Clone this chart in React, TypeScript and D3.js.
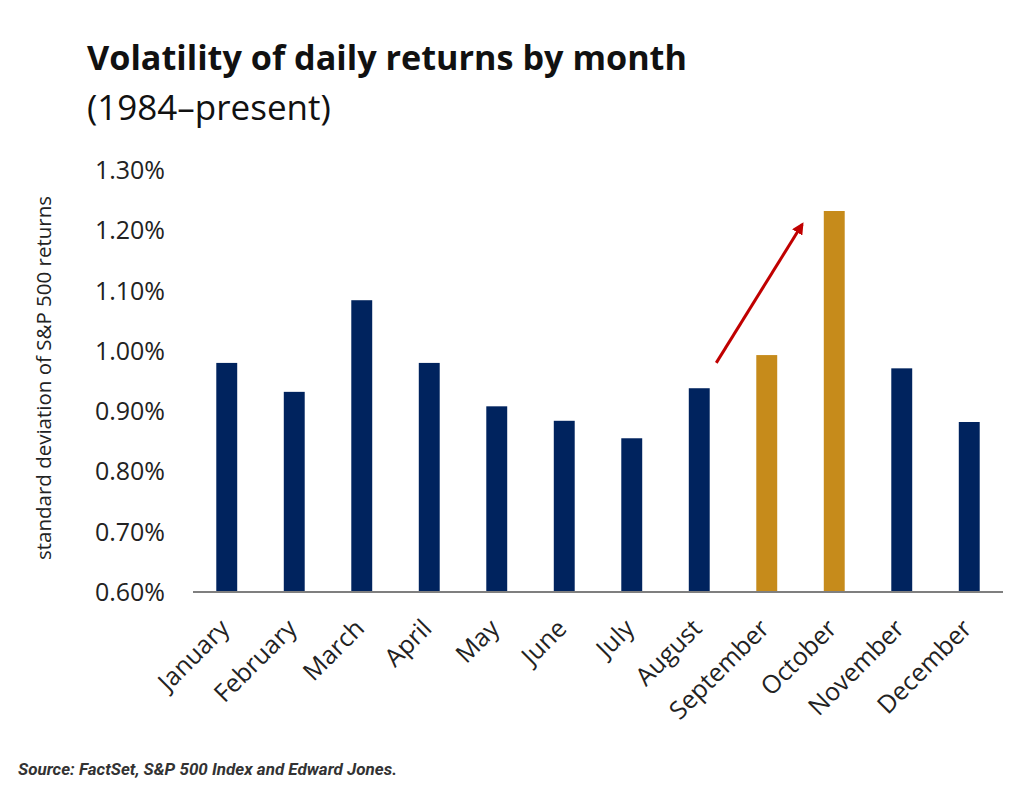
import * as d3 from "d3";
import React, { useCallback } from "react";

const MONTHS = [
  "January", "February", "March", "April", "May", "June",
  "July", "August", "September", "October", "November", "December",
];
// std deviation of daily S&P 500 returns, in %
const VOLATILITY = [0.98, 0.932, 1.084, 0.98, 0.908, 0.884, 0.855, 0.938, 0.993, 1.232, 0.971, 0.882];
const HIGHLIGHT = ["September", "October"];
const Y_TICKS = [0.6, 0.7, 0.8, 0.9, 1.0, 1.1, 1.2, 1.3];
// arrow drawn from August's neighbourhood up toward October
const ARROW = { from: { month: "August", value: 0.98 }, to: { month: "October", value: 1.21 } };

const W = 1016;
const H = 791;
const NAVY = "#00235e";
const GOLD = "#c68b1b";
const FONT = "'Open Sans', Lato, sans-serif";

function drawChart(node: SVGSVGElement) {
  const svg = d3.select(node);
  svg.selectAll("*").remove();

  const margin = { top: 170, right: 13, bottom: 199, left: 193 };
  const width = W - margin.left - margin.right;
  const height = H - margin.top - margin.bottom;

  const x = d3.scaleBand().domain(MONTHS).range([0, width]).paddingInner(0.69).paddingOuter(0.345);
  const y = d3.scaleLinear().domain([0.6, 1.3]).range([height, 0]);

  const defs = svg.append("defs");
  defs
    .append("marker")
    .attr("id", "arrowhead")
    .attr("viewBox", "0 0 10 10")
    .attr("refX", 8)
    .attr("refY", 5)
    .attr("markerWidth", 4)
    .attr("markerHeight", 4)
    .attr("orient", "auto")
    .append("path")
    .attr("d", "M0,0 L10,5 L0,10 z")
    .attr("fill", "#c00000");

  // title
  svg
    .append("text")
    .attr("x", 87)
    .attr("y", 70)
    .attr("font-family", FONT)
    .attr("font-weight", 700)
    .attr("font-size", 34.2)
    .attr("fill", "#111")
    .text("Volatility of daily returns by month");
  svg
    .append("text")
    .attr("x", 87)
    .attr("y", 120)
    .attr("font-family", FONT)
    .attr("font-size", 35)
    .attr("fill", "#111")
    .text("(1984–present)");

  const g = svg.append("g").attr("transform", `translate(${margin.left},${margin.top})`);

  // y tick labels (no axis line)
  g.append("g")
    .selectAll("text")
    .data(Y_TICKS)
    .join("text")
    .attr("x", -28)
    .attr("y", d => y(d))
    .attr("dy", "0.36em")
    .attr("text-anchor", "end")
    .attr("font-family", FONT)
    .attr("font-size", 25)
    .attr("fill", "#222")
    .text(d => d3.format(".2f")(d) + "%");

  // y axis title
  svg
    .append("text")
    .attr("transform", `translate(51, ${378}) rotate(-90)`)
    .attr("text-anchor", "middle")
    .attr("font-family", FONT)
    .attr("font-size", 20.5)
    .attr("fill", "#222")
    .text("standard deviation of S&P 500 returns");

  // bars
  g.append("g")
    .selectAll("rect")
    .data(MONTHS)
    .join("rect")
    .attr("x", d => x(d)!)
    .attr("width", x.bandwidth())
    .attr("y", (d, i) => y(VOLATILITY[i]))
    .attr("height", (d, i) => height - y(VOLATILITY[i]))
    .attr("fill", d => (HIGHLIGHT.includes(d) ? GOLD : NAVY));

  // baseline
  g.append("line")
    .attr("x1", 0)
    .attr("x2", width)
    .attr("y1", height)
    .attr("y2", height)
    .attr("stroke", "#7f7f7f")
    .attr("stroke-width", 2);

  // month labels, rotated
  g.append("g")
    .selectAll("text")
    .data(MONTHS)
    .join("text")
    .attr("transform", d => `translate(${x(d)! + x.bandwidth() / 2 + 4}, ${height + 38}) rotate(-45)`)
    .attr("text-anchor", "end")
    .attr("font-family", FONT)
    .attr("font-size", 25)
    .attr("fill", "#222")
    .text(d => d);

  // red arrow
  const cx = (m: string) => x(m)! + x.bandwidth() / 2;
  g.append("line")
    .attr("x1", cx(ARROW.from.month) + 17)
    .attr("y1", y(ARROW.from.value))
    .attr("x2", cx(ARROW.to.month) - 32)
    .attr("y2", y(ARROW.to.value))
    .attr("stroke", "#c00000")
    .attr("stroke-width", 3)
    .attr("marker-end", "url(#arrowhead)");

  // source
  svg
    .append("text")
    .attr("x", 18)
    .attr("y", 775)
    .attr("font-family", "'Liberation Sans Narrow', 'Roboto', sans-serif")
    .attr("font-style", "italic")
    .attr("font-weight", 700)
    .attr("font-size", 17)
    .attr("fill", "#333")
    .text("Source: FactSet, S&P 500 Index and Edward Jones.");
}

export default function App() {
  const svg = useCallback((node: SVGSVGElement | null) => {
    if (node) drawChart(node);
  }, []);

  return (
    <div style={{ position: "absolute", left: 0, top: 0 }}>
      <svg ref={svg} width={W} height={H} style={{ display: "block", background: "#fff" }} />
    </div>
  );
}
